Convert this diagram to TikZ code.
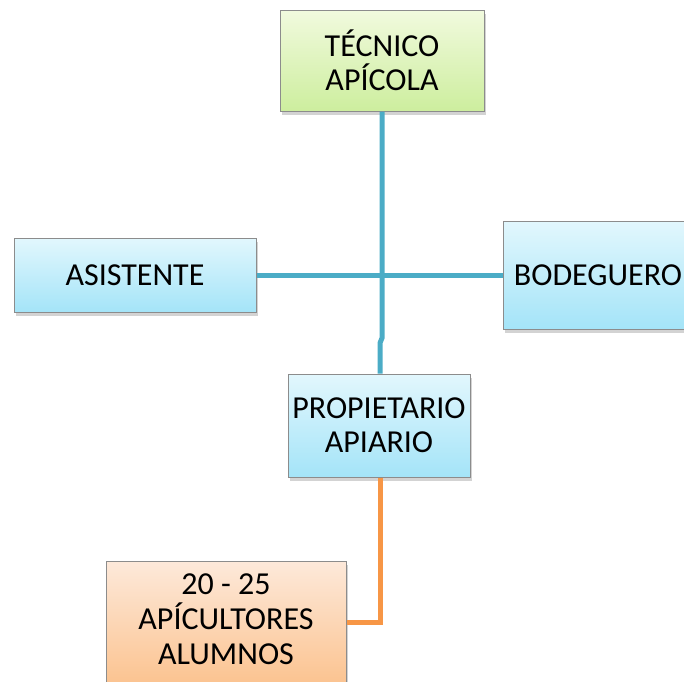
\documentclass[tikz,border=0pt]{standalone}
\usepackage{fontspec}
\setmainfont{Carlito}
\usetikzlibrary{shadows}
\definecolor{linkblue}{HTML}{4BACC6}
\definecolor{linkorange}{HTML}{F79646}
\definecolor{boxline}{HTML}{8C8C8C}
\definecolor{greentop}{RGB}{241,250,222}
\definecolor{greenbot}{RGB}{205,238,158}
\definecolor{bluetop}{RGB}{226,247,253}
\definecolor{bluebot}{RGB}{164,228,248}
\definecolor{orangetop}{RGB}{253,233,218}
\definecolor{orangebot}{RGB}{251,190,134}
\tikzset{
  box/.style={draw=boxline, line width=1pt, inner sep=0pt, align=center,
    font=\fontsize{32}{34}\selectfont,
    drop shadow={opacity=0.35, shadow xshift=1.5pt, shadow yshift=-3.5pt}},
  greenbox/.style={box, top color=greentop, bottom color=greenbot},
  bluebox/.style={box, top color=bluetop, bottom color=bluebot},
  orangebox/.style={box, top color=orangetop, bottom color=orangebot},
  bluelink/.style={draw=linkblue, line width=5pt},
  orangelink/.style={draw=linkorange, line width=5pt, line join=miter},
  lbl/.style={inner sep=0pt, align=center, font=\fontsize{32}{35}\selectfont}
}
\begin{document}
\begin{tikzpicture}[x=1pt, y=-1pt]
\useasboundingbox (0,0) rectangle (684,681);
\coordinate (jog1) at (382,338);
\coordinate (jog2) at (380,343);
\node[greenbox, minimum width=204pt, minimum height=101pt] (tec) at (382,60.5) {TÉCNICO\\APÍCOLA};
\node[bluebox, minimum width=242pt, minimum height=74pt] (asis) at (135,275) {ASISTENTE};
\node[bluebox, minimum width=190pt, minimum height=108pt] (bod) at (598,275) {BODEGUERO};
\node[bluebox, minimum width=182pt, minimum height=103pt] (prop) at (379,425.5) {PROPIETARIO\\APIARIO};
\node[orangebox, minimum width=240pt, minimum height=140pt] (alum) at (226,631) {};
\node[lbl] (alumt) at (226,619) {20 - 25\\APÍCULTORES\\ALUMNOS};
\draw[bluelink] (tec.south -| jog1) -- (jog1) -- (jog2) -- (prop.north -| jog2);
\draw[bluelink] (asis.east) -- (bod.west);
\draw[orangelink] (prop.south -| jog2) |- (alum.east |- 0,622);
\end{tikzpicture}
\end{document}
